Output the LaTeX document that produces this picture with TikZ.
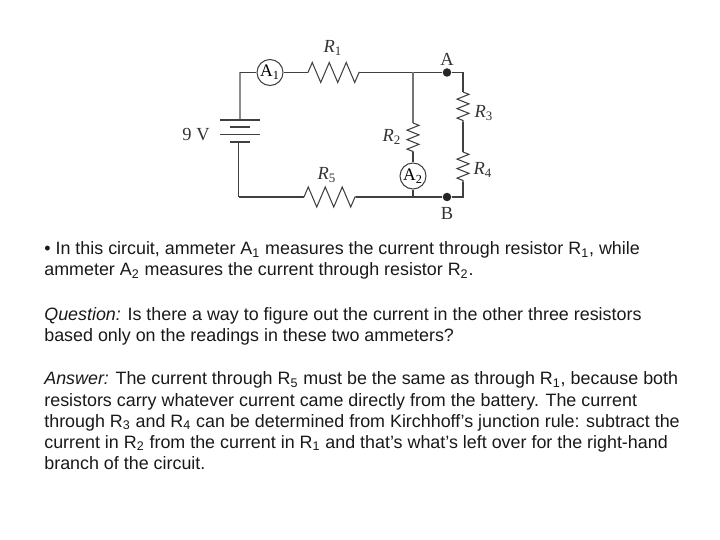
\documentclass[tikz,border=0pt]{standalone}
\usepackage{fontspec}
\setmainfont{Liberation Sans}
\newfontfamily\labelfont{Liberation Serif}
\usetikzlibrary{decorations.pathmorphing}
\usetikzlibrary{positioning}
\newcommand{\subnum}[1]{\textsubscript{#1}}
\tikzset{
  wire/.style={draw=black!75, line width=0.6pt},
  bigres/.style={wire, decorate, decoration={zigzag, segment length=0.34cm, amplitude=0.2cm}},
  smallres/.style={wire, decorate, decoration={zigzag, segment length=0.19cm, amplitude=0.12cm}},
  meter/.style={circle, draw=black!75, fill=white, line width=0.6pt, minimum size=0.52cm, inner sep=0pt, font=\labelfont\fontsize{10}{10}\selectfont},
  terminal/.style={circle, fill=black!85, minimum size=0.17cm, inner sep=0pt},
  lab/.style={inner sep=0pt, text=black!80, font=\labelfont\fontsize{10.5}{10.5}\selectfont},
  para/.style={anchor=base west, inner sep=0pt, text=black!90, font=\fontsize{10.18}{11}\selectfont}
}
\begin{document}
\begin{tikzpicture}[x=0.02cm, y=-0.02cm]
  \useasboundingbox (0, 0) rectangle (720, 540);
  % corners and junctions
  \coordinate (topleft) at (240, 72.5);
  \coordinate (botleft) at (238.5, 197);
  \coordinate (topright) at (463, 72.5);
  \coordinate (botright) at (463, 197);
  \coordinate (topjoin) at (413, 72.5);
  \coordinate (botjoin) at (413, 197);
  % battery plates
  \coordinate (plateA) at (240, 120);
  \coordinate (plateB) at (238.5, 142);
  \draw [wire, draw=black!45, line width=1pt] (topleft) -- (plateA);
  \draw [wire] (220, 120) -- (260, 120);
  \draw [wire, line width=0.8pt] (230, 127) -- (250, 127);
  \draw [wire] (220, 134.5) -- (260, 134.5);
  \draw [wire, line width=0.8pt] (230, 142) -- (250, 142);
  \draw [wire] (plateB) -- (botleft);
  % ammeters and terminals
  \node [meter] (meterA) at (270, 72.5) {A\subnum{1}};
  \node [meter] (meterB) at (413, 176) {A\subnum{2}};
  \node [terminal] (termA) at (447, 72.5) {};
  \node [terminal] (termB) at (447, 197) {};
  % resistor ends
  \coordinate (resAa) at (308, 72.5);
  \coordinate (resAb) at (360, 72.5);
  \coordinate (resBa) at (413, 123);
  \coordinate (resBb) at (413, 152);
  \coordinate (resCa) at (463, 92);
  \coordinate (resCb) at (463, 122);
  \coordinate (resDa) at (463, 152);
  \coordinate (resDb) at (463, 182);
  \coordinate (resEa) at (304, 197);
  \coordinate (resEb) at (356, 197);
  % top branch
  \draw [wire] (topleft) -- (meterA);
  \draw [wire] (meterA) -- (resAa);
  \draw [bigres] (resAa) -- (resAb);
  \draw [wire] (resAb) -- (topjoin) -- (termA) -- (topright) -- (resCa);
  % middle branch
  \draw [wire, draw=black!55] (topjoin) -- (resBa);
  \draw [smallres] (resBa) -- (resBb);
  \draw [wire] (resBb) -- (meterB);
  \draw [wire] (meterB) -- (botjoin);
  % right branch
  \draw [smallres] (resCa) -- (resCb);
  \draw [wire] (resCb) -- (resDa);
  \draw [smallres] (resDa) -- (resDb);
  \draw [wire] (resDb) -- (botright) -- (termB) -- (botjoin) -- (resEb);
  % bottom branch
  \draw [bigres] (resEa) -- (resEb);
  \draw [wire] (resEa) -- (botleft);
  % labels
  \node [lab] (labR1) at (333, 48) {\textit{R}\subnum{1}};
  \node [lab] (labR2) at (392, 137) {\textit{R}\subnum{2}};
  \node [lab] (labR3) at (484, 113) {\textit{R}\subnum{3}};
  \node [lab] (labR4) at (483, 170) {\textit{R}\subnum{4}};
  \node [lab] (labR5) at (327, 175) {\textit{R}\subnum{5}};
  \node [lab] (labA) at (447, 59) {A};
  \node [lab] (labB) at (447, 213) {B};
  \node [lab] (labV) at (196, 135) {9 V};
  % text
  \node [para] (lineA) at (44, 255) {\textbullet{} In this circuit, ammeter A\subnum{1} measures the current through resistor R\subnum{1}, while};
  \node [para] (lineB) at (44, 275.5) {ammeter A\subnum{2} measures the current through resistor R\subnum{2}.};
  \node [para] (lineC) at (44, 321) {\textit{Question:} Is there a way to figure out the current in the other three resistors};
  \node [para] (lineD) at (44, 341.5) {based only on the readings in these two ammeters?};
  \node [para] (lineE) at (44, 385) {\textit{Answer:} The current through R\subnum{5} must be the same as through R\subnum{1}, because both};
  \node [para] (lineF) at (44, 406) {resistors carry whatever current came directly from the battery. The current};
  \node [para] (lineG) at (44, 427) {through R\subnum{3} and R\subnum{4} can be determined from Kirchhoff’s junction rule: subtract the};
  \node [para] (lineH) at (44, 448) {current in R\subnum{2} from the current in R\subnum{1} and that’s what’s left over for the right-hand};
  \node [para] (lineI) at (44, 469) {branch of the circuit.};
\end{tikzpicture}
\end{document}
